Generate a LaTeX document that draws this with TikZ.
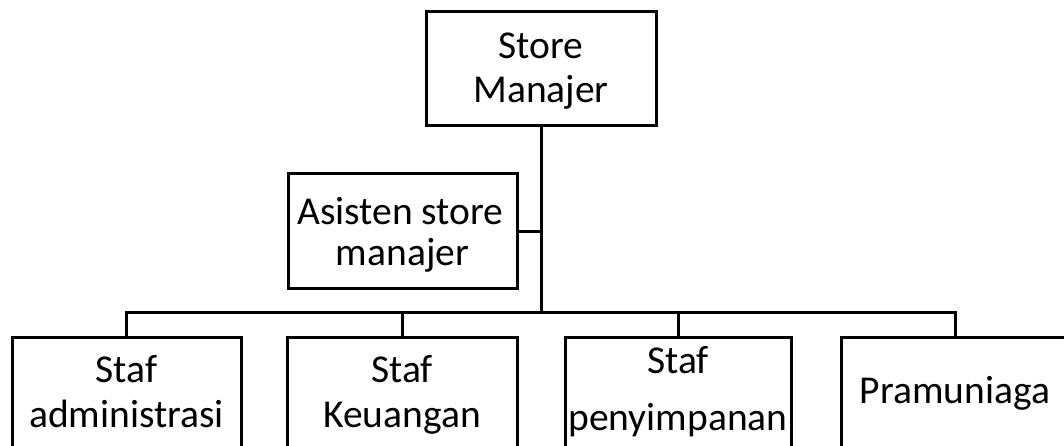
\documentclass[tikz,border=0pt]{standalone}
\usepackage{fontspec}
\setmainfont{Carlito}
\begin{document}
\begin{tikzpicture}[x=1pt,y=-1pt,
  box/.style={draw=black, line width=3pt, rectangle, inner sep=0pt},
  conn/.style={draw=black, line width=3pt},
  lbl/.style={anchor=base, inner sep=0pt, font=\fontsize{39.5}{47}\selectfont}]
\clip (0,0) rectangle (1064,446);
% boxes
\node[box, minimum width=230pt, minimum height=114pt] (top) at (541,69) {};
\node[box, minimum width=229pt, minimum height=114pt] (asst) at (402.5,231) {};
\node[box, minimum width=229pt, minimum height=143pt] (b1) at (126.5,408.5) {};
\node[box, minimum width=230pt, minimum height=143pt] (b2) at (402,408.5) {};
\node[box, minimum width=226pt, minimum height=143pt] (b3) at (678,408.5) {};
\node[box, minimum width=228pt, minimum height=143pt] (b4) at (955,408.5) {};
% labels
\node[lbl] (t1) at (541,59) {Store};
\node[lbl] (t2) at (541,103) {Manajer};
\node[lbl] (a1) at (400.5,225) {Asisten store};
\node[lbl] (a2) at (402.5,265) {manajer};
\node[lbl] (s1a) at (126.5,382) {Staf};
\node[lbl] (s1b) at (126.5,427) {administrasi};
\node[lbl] (s2a) at (402,382) {Staf};
\node[lbl] (s2b) at (402,427) {Keuangan};
\node[lbl] (s3a) at (678,373) {Staf};
\node[lbl] (s3b) at (678,430) {penyimpanan};
\node[lbl] (s4) at (955,403) {Pramuniaga};
% connectors
\coordinate (bus) at (541,312);
\draw[conn] (top.south) -- (bus);
\draw[conn] (asst.east) -- (asst.east -| bus);
\draw[conn] (b1.north) |- (bus) -| (b4.north);
\draw[conn] (b2.north) -- (b2.north |- bus);
\draw[conn] (b3.north) -- (b3.north |- bus);
\end{tikzpicture}
\end{document}
